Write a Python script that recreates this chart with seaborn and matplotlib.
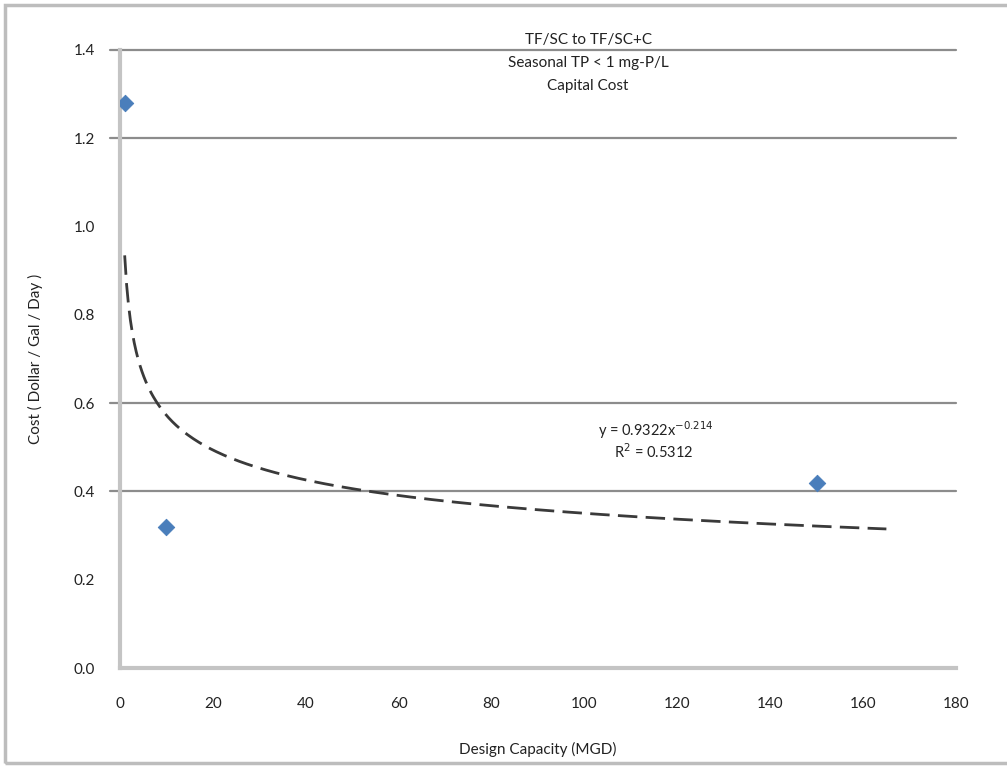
import numpy as np
import pandas as pd
import matplotlib
matplotlib.use("Agg")
import matplotlib.pyplot as plt
from matplotlib.patches import Rectangle
import seaborn as sns

# Data
capacity_mgd = [1, 10, 150]
cost_per_gpd = [1.28, 0.32, 0.42]
trend_start, trend_end = 1, 165
title_lines = ["TF/SC to TF/SC+C", "Seasonal TP < 1 mg-P/L", "Capital Cost"]
eq_text = "y = 0.9322x$^{-0.214}$"
r2_text = "R$^2$ = 0.5312"
grid_levels = [0.4, 0.6, 1.2, 1.4]
x_ticks = list(range(0, 181, 20))
y_ticks = [0.0, 0.2, 0.4, 0.6, 0.8, 1.0, 1.2, 1.4]

sns.set_style("white")
plt.rcParams['font.family'] = ['Lato', 'DejaVu Sans']

df = pd.DataFrame({'capacity': capacity_mgd, 'cost': cost_per_gpd})

fig = plt.figure(figsize=(10.07, 7.69), dpi=100)
ax = fig.add_axes([0.1192, 0.1313, 0.8302, 0.8037])

# power trendline fitted to the points (like Excel)
b, ln_a = np.polyfit(np.log(df['capacity']), np.log(df['cost']), 1)
xs = np.linspace(trend_start, trend_end, 400)
trend = pd.DataFrame({'capacity': xs, 'cost': np.exp(ln_a) * xs ** b})
sns.lineplot(data=trend, x='capacity', y='cost', ax=ax, color='#3a3a3a',
             linewidth=2, dashes=False, zorder=3)
ax.lines[-1].set_dashes([7, 3])

for lvl in grid_levels:
    ax.axhline(lvl, color='#8c8c8c', linewidth=1.6, zorder=1,
               xmin=-0.012, clip_on=False)

sns.scatterplot(data=df, x='capacity', y='cost', ax=ax, marker='D', s=70,
                color='#4a7ebb', edgecolor='#4a7ebb', zorder=4)

ax.set_xlim(0, 180)
ax.set_ylim(0, 1.4)
ax.set_xticks(x_ticks)
ax.set_yticks(y_ticks)
ax.set_xticklabels([str(t) for t in x_ticks])
ax.set_yticklabels([f"{t:.1f}" for t in y_ticks])
ax.tick_params(axis='x', length=5, width=1, color='#b0b0b0', pad=16,
               labelsize=11, labelcolor='#222222')
ax.tick_params(axis='y', length=0, pad=18, labelsize=11, labelcolor='#222222')

for side in ['top', 'right']:
    ax.spines[side].set_visible(False)
ax.spines['left'].set_color('#c4c4c4')
ax.spines['left'].set_linewidth(3)
ax.spines['bottom'].set_color('#c4c4c4')
ax.spines['bottom'].set_linewidth(3)

ax.set_xlabel('Design Capacity (MGD)', fontsize=11, color='#222222', labelpad=22)
ax.set_ylabel('Cost ( Dollar / Gal / Day )', fontsize=11, color='#222222', labelpad=22)

for i, line in enumerate(title_lines):
    fig.text(0.584, 1 - (40 + 23 * i) / 769, line, ha='center', va='center',
             fontsize=11, color='#222222')

fig.text(0.594, 1 - 430 / 769, eq_text, ha='left', va='center', fontsize=10.5,
         color='#222222')
fig.text(0.610, 1 - 452 / 769, r2_text, ha='left', va='center', fontsize=10.5,
         color='#222222')

# chart area border (runs off the right edge like the reference)
fig.patches.append(Rectangle((5 / 1007, 6 / 769), 1.05, 758 / 769,
                             transform=fig.transFigure, fill=False,
                             edgecolor='#bdbdbd', linewidth=2.5))

fig.savefig('out.png', dpi=100)
